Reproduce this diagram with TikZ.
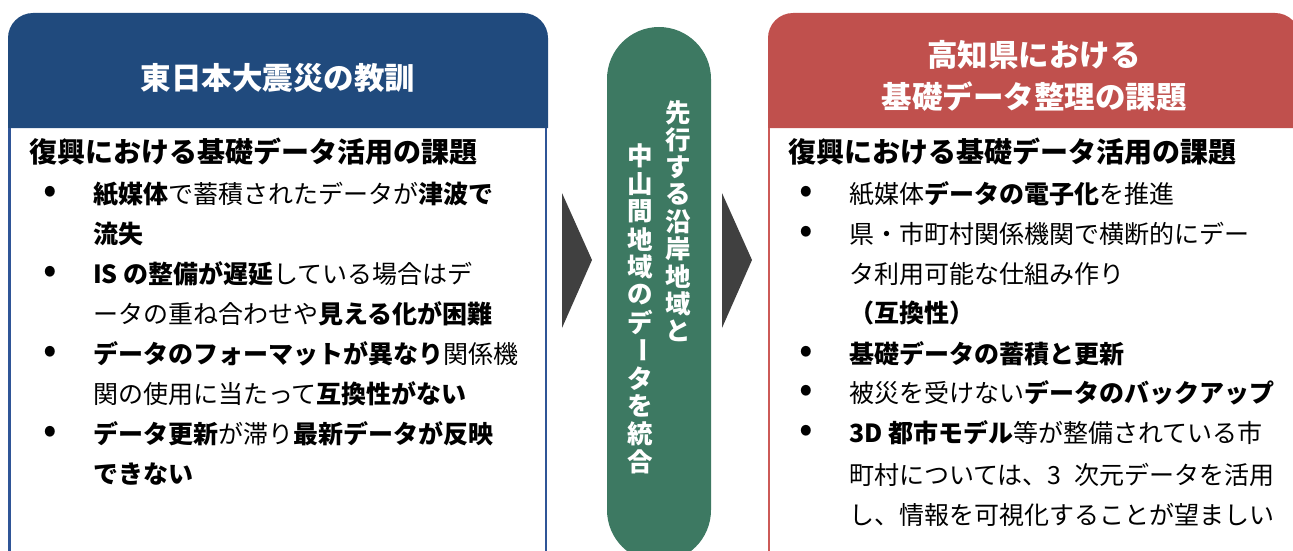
\documentclass[tikz,border=0pt]{standalone}
\usepackage{fontspec}
\setmainfont{Noto Sans CJK JP}
\definecolor{hdrblue}{RGB}{32,74,125}
\definecolor{lineblue}{RGB}{47,85,151}
\definecolor{hdrred}{RGB}{192,80,77}
\definecolor{linered}{RGB}{204,90,87}
\definecolor{pillgreen}{RGB}{61,121,98}
\definecolor{chev}{RGB}{64,64,64}
\begin{document}
\begin{tikzpicture}[x=1pt,y=-1pt,
  title/.style={font=\fontsize{30.5}{42}\selectfont\bfseries, text=white, inner sep=0pt, align=center},
  sub/.style={font=\fontsize{28}{32}\selectfont\bfseries, anchor=west, inner sep=0pt, text height=23pt, text depth=5pt},
  item/.style={font=\fontsize{25}{29}\selectfont, anchor=west, inner sep=0pt, text height=21pt, text depth=4pt},
  bul/.style={font=\fontsize{40}{40}\selectfont, inner sep=0pt},
  vchar/.style={font=\fontsize{25.5}{25.5}\selectfont\bfseries, text=white, inner sep=0pt},
  pillbox/.style={fill=pillgreen, rounded corners=52pt, minimum width=104pt, minimum height=535pt, inner sep=0pt},
  chevron/.style={fill=chev}
]
\clip (0,0) rectangle (1293,551);
\useasboundingbox (0,0) rectangle (1293,551);
% left panel
\fill[hdrblue] (8,128) [rounded corners=25pt] -- (8,13) -- (548,13) [sharp corners] -- (548,128) -- cycle;
\draw[lineblue, line width=2.5pt] (9.5,128) -- (9.5,560);
\draw[lineblue, line width=2.5pt] (546,128) -- (546,560);
\node[title] (ltitle) at (278,78) {東日本大震災の教訓};
\node[sub] (lsub) at (29,153) {復興における基礎データ活用の課題};
\node[bul] (lb1) at (50,195) {•};
\node[bul] (lb2) at (50,275) {•};
\node[bul] (lb3) at (50,355) {•};
\node[bul] (lb4) at (50,435) {•};
\node[item] (l1) at (93,195) {\textbf{紙媒体}で蓄積されたデータが\textbf{津波で}};
\node[item] (l2) at (93,235) {\textbf{流失}};
\node[item] (l3) at (93,275) {\textbf{IS の整備が遅延}している場合はデ};
\node[item] (l4) at (93,315) {ータの重ね合わせや\textbf{見える化が困難}};
\node[item] (l5) at (93,355) {\textbf{データのフォーマットが異なり}関係機};
\node[item] (l6) at (93,395) {関の使用に当たって\textbf{互換性がない}};
\node[item] (l7) at (93,435) {\textbf{データ更新}が滞り\textbf{最新データが反映}};
\node[item] (l8) at (93,475) {\textbf{できない}};
% right panel
\fill[hdrred] (768,128) [rounded corners=25pt] -- (768,13) -- (1300,13) [sharp corners] -- (1300,128) -- cycle;
\draw[linered, line width=2.5pt] (769,128) -- (769,560);
\node[title] (rtitle) at (1034,76) {高知県における\\基礎データ整理の課題};
\node[sub] (rsub) at (788,153) {復興における基礎データ活用の課題};
\node[bul] (rb1) at (806,195) {•};
\node[bul] (rb2) at (806,235) {•};
\node[bul] (rb3) at (806,355) {•};
\node[bul] (rb4) at (806,394) {•};
\node[bul] (rb5) at (806,434) {•};
\node[item] (r1) at (849,195) {紙媒体\textbf{データの電子化}を推進};
\node[item] (r2) at (849,235) {県・市町村関係機関で横断的にデー};
\node[item] (r3) at (849,275) {タ利用可能な仕組み作り};
\node[item] (r4) at (849,314) {\textbf{（互換性）}};
\node[item] (r5) at (849,355) {\textbf{基礎データの蓄積と更新}};
\node[item] (r6) at (849,394) {被災を受けない\textbf{データのバックアップ}};
\node[item] (r7) at (849,434) {\textbf{3D 都市モデル}等が整備されている市};
\node[item] (r8) at (849,476) {町村については、3\hspace{0.5em}次元データを活用};
\node[item] (r9) at (849,516) {し、情報を可視化することが望ましい};
% middle pill
\node[pillbox] (pill) at (659,294.5) {};
\foreach \c [count=\i] in {先,行,す,る,沿,岸,地,域,と}
  \node[vchar] (vr\i) at (678,{113+27.2*(\i-1)}) {\c};
\foreach \c [count=\i] in {中,山,間,地,域,の,デ,{\rotatebox{-90}{ー}},タ,を,統,合}
  \node[vchar] (vl\i) at (640,{156+27.8*(\i-1)}) {\c};
% chevrons
\fill[chevron] (562,193) -- (592,260) -- (562,328) -- cycle;
\fill[chevron] (722,193) -- (752,260) -- (722,328) -- cycle;
\end{tikzpicture}
\end{document}
